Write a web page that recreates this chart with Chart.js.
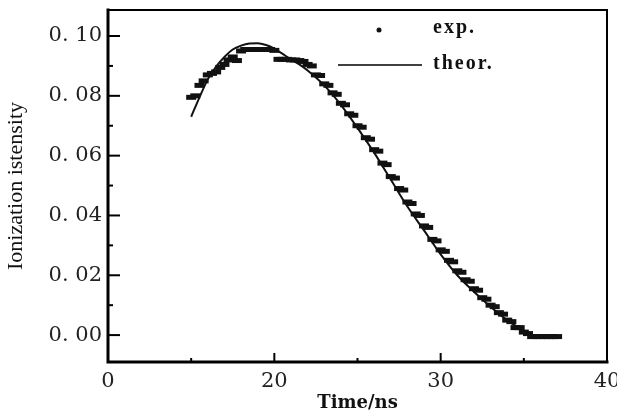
<!DOCTYPE html>
<html>
<head>
<meta charset="utf-8">
<script src="https://cdn.jsdelivr.net/npm/chart.js@4/dist/chart.umd.min.js"></script>
<style>
  html, body { margin: 0; padding: 0; background: #fff; }
  canvas { display: block; }
</style>
</head>
<body>
<canvas id="chart" width="617" height="417"></canvas>
<script>
// axis ticks (the left-most label reads "0" in the original figure)
const xTickValues = [10, 20, 30, 40];
const xTickLabels = ['0', '20', '30', '40'];
const xMinorTicks = [15, 25, 35];
const yTickValues = [0, 0.02, 0.04, 0.06, 0.08, 0.10];
const yTickLabels = ['0. 00', '0. 02', '0. 04', '0. 06', '0. 08', '0. 10'];
const yMinorTicks = [0.01, 0.03, 0.05, 0.07, 0.09];

// theoretical curve
const theoryTime = [15, 15.5, 16, 16.5, 17, 17.5, 18, 18.5, 19, 19.5, 20, 20.5, 21, 21.5, 22, 23, 24, 25, 26, 27, 28, 29, 30, 31, 32, 33, 34, 35, 35.5];
const theoryValue = [0.073, 0.0795, 0.0855, 0.0898, 0.093, 0.0955, 0.0968, 0.0975, 0.0976, 0.097, 0.0958, 0.094, 0.0922, 0.0905, 0.0885, 0.0835, 0.077, 0.0693, 0.061, 0.052, 0.043, 0.035, 0.027, 0.020, 0.0145, 0.0095, 0.005, 0.0015, 0.0005];

// experimental points
const expTime = [
  15.00, 15.25, 15.50, 15.75, 16.00, 16.25, 16.50, 16.75, 17.00, 17.25, 17.50, 17.75,
  18.00, 18.25, 18.50, 18.75, 19.00, 19.25, 19.50, 19.75, 20.00, 20.25, 20.50, 20.75,
  21.00, 21.25, 21.50, 21.75, 22.00, 22.25, 22.50, 22.75, 23.00, 23.25, 23.50, 23.75,
  24.00, 24.25, 24.50, 24.75, 25.00, 25.25, 25.50, 25.75, 26.00, 26.25, 26.50, 26.75,
  27.00, 27.25, 27.50, 27.75, 28.00, 28.25, 28.50, 28.75, 29.00, 29.25, 29.50, 29.75,
  30.00, 30.25, 30.50, 30.75, 31.00, 31.25, 31.50, 31.75, 32.00, 32.25, 32.50, 32.75,
  33.00, 33.25, 33.50, 33.75, 34.00, 34.25, 34.50, 34.75, 35.00, 35.25, 35.50, 35.75,
  36.00, 36.25, 36.50, 36.75, 37.00
];
const expValue = [
  0.0795, 0.0800, 0.0835, 0.0850, 0.0870, 0.0875, 0.0880, 0.0895, 0.0905, 0.0920, 0.0930, 0.0918,
  0.0950, 0.0955, 0.0955, 0.0955, 0.0955, 0.0955, 0.0955, 0.0955, 0.0952, 0.0922, 0.0922, 0.0922,
  0.0920, 0.0920, 0.0918, 0.0915, 0.0905, 0.0900, 0.0870, 0.0868, 0.0840, 0.0835, 0.0810, 0.0805,
  0.0775, 0.0770, 0.0740, 0.0735, 0.0700, 0.0695, 0.0660, 0.0655, 0.0620, 0.0615, 0.0575, 0.0570,
  0.0530, 0.0525, 0.0490, 0.0485, 0.0445, 0.0440, 0.0405, 0.0400, 0.0365, 0.0360, 0.0320, 0.0315,
  0.0285, 0.0280, 0.0250, 0.0245, 0.0215, 0.0210, 0.0185, 0.0180, 0.0155, 0.0150, 0.0125, 0.0120,
  0.0100, 0.0095, 0.0075, 0.0070, 0.0050, 0.0045, 0.0025, 0.0025, 0.0010, 0.0005, -0.0005, -0.0005,
  -0.0005, -0.0005, -0.0005, -0.0005, -0.0005
];

const serif = '"Liberation Serif", "Times New Roman", serif';
const wideSerif = '"DejaVu Serif", serif';

// frame, inward tick marks and the in-plot legend
const framePlugin = {
  id: 'frame',
  afterDraw(chart) {
    const ctx = chart.ctx;
    const a = chart.chartArea;
    const xs = chart.scales.x, ys = chart.scales.y;
    ctx.save();
    ctx.strokeStyle = '#000';
    ctx.lineCap = 'square';

    // y ticks
    ctx.lineWidth = 2;
    yTickValues.forEach(v => {
      const py = ys.getPixelForValue(v);
      ctx.beginPath(); ctx.moveTo(a.left, py); ctx.lineTo(a.left + 11, py); ctx.stroke();
    });
    yMinorTicks.forEach(v => {
      const py = ys.getPixelForValue(v);
      ctx.beginPath(); ctx.moveTo(a.left, py); ctx.lineTo(a.left + 4, py); ctx.stroke();
    });
    // x ticks
    xTickValues.slice(1, 3).forEach(v => {
      const px = xs.getPixelForValue(v);
      ctx.beginPath(); ctx.moveTo(px, a.bottom); ctx.lineTo(px, a.bottom - 8); ctx.stroke();
    });
    xMinorTicks.forEach(v => {
      const px = xs.getPixelForValue(v);
      ctx.beginPath(); ctx.moveTo(px, a.bottom); ctx.lineTo(px, a.bottom - 3); ctx.stroke();
    });

    // frame
    ctx.lineWidth = 2;
    ctx.beginPath();
    ctx.moveTo(a.left, a.top); ctx.lineTo(a.right, a.top); ctx.lineTo(a.right, a.bottom);
    ctx.stroke();
    ctx.lineWidth = 3;
    ctx.beginPath();
    ctx.moveTo(a.left, a.top); ctx.lineTo(a.left, a.bottom); ctx.lineTo(a.right, a.bottom);
    ctx.stroke();

    // legend
    ctx.fillStyle = '#111';
    ctx.beginPath();
    ctx.arc(a.left + 271, a.top + 20, 2.5, 0, Math.PI * 2);
    ctx.fill();
    ctx.lineWidth = 1.5;
    ctx.lineCap = 'butt';
    ctx.beginPath();
    ctx.moveTo(a.left + 230, a.top + 55); ctx.lineTo(a.left + 314, a.top + 55);
    ctx.stroke();
    ctx.letterSpacing = '2px';
    ctx.font = 'bold 20px ' + serif;
    ctx.textAlign = 'left';
    ctx.textBaseline = 'middle';
    ctx.fillText('exp.', a.left + 325, a.top + 18);
    ctx.fillText('theor.', a.left + 325, a.top + 54);
    ctx.restore();
  }
};

const ctx = document.getElementById('chart').getContext('2d');
const chart = new Chart(ctx, {
  type: 'scatter',
  data: {
    datasets: [
      {
        label: 'exp.',
        data: expTime.map((t, i) => ({ x: t, y: expValue[i] })),
        pointStyle: 'line',
        pointRadius: 5,
        borderWidth: 5,
        borderColor: '#111',
        backgroundColor: '#111',
        showLine: false
      },
      {
        label: 'theor.',
        data: theoryTime.map((t, i) => ({ x: t, y: theoryValue[i] })),
        showLine: true,
        borderColor: '#111',
        borderWidth: 2,
        pointRadius: 0,
        tension: 0.4,
        cubicInterpolationMode: 'monotone'
      }
    ]
  },
  options: {
    responsive: false,
    animation: false,
    layout: { padding: { top: 8, right: 9, left: 0, bottom: 0 } },
    plugins: {
      legend: { display: false },
      tooltip: { enabled: false }
    },
    scales: {
      x: {
        type: 'linear',
        min: 10,
        max: 40,
        afterBuildTicks: s => { s.ticks = xTickValues.map(v => ({ value: v })); },
        afterFit: s => { s.height = 55; s.paddingLeft = 0; s.paddingRight = 0; },
        grid: { display: false, drawTicks: false },
        border: { display: false },
        ticks: {
          autoSkip: false,
          maxRotation: 0,
          padding: 7,
          color: '#222',
          font: { family: wideSerif, size: 21 },
          callback: (v, i) => xTickLabels[i]
        },
        title: {
          display: true,
          text: 'Time/ns',
          color: '#111',
          font: { family: wideSerif, size: 18, weight: 'bold' },
          padding: { top: 0, bottom: 3 }
        }
      },
      y: {
        min: -0.009,
        max: 0.1087,
        afterBuildTicks: s => { s.ticks = yTickValues.map(v => ({ value: v })); },
        afterFit: s => { s.width = 108; s.paddingTop = 0; s.paddingBottom = 0; },
        grid: { display: false, drawTicks: false },
        border: { display: false },
        ticks: {
          autoSkip: false,
          padding: 6,
          color: '#222',
          font: { family: wideSerif, size: 21 },
          callback: (v, i) => yTickLabels[i]
        },
        title: {
          display: true,
          text: 'Ionization istensity',
          color: '#111',
          font: { family: serif, size: 22 },
          padding: { top: 3, bottom: 0 }
        }
      }
    }
  },
  plugins: [framePlugin]
});
</script>
</body>
</html>
